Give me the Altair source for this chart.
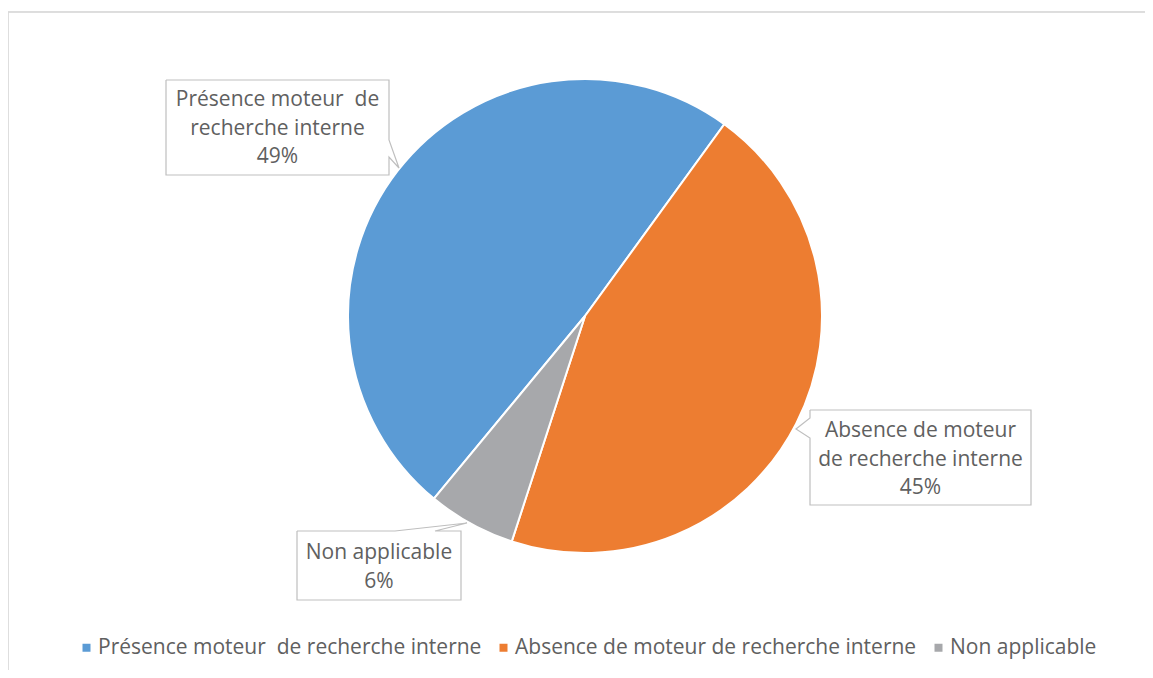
import altair as alt
import pandas as pd

# ---- data ----
categories = [
    "Présence moteur\u00a0 de recherche interne",
    "Absence de moteur de recherche interne",
    "Non applicable",
]
values = [49, 45, 6]
colors = ["#5B9BD5", "#ED7D31", "#A7A8AB"]
box_lines = [
    "Présence moteur\u00a0 de\nrecherche interne",
    "Absence de moteur\nde recherche interne",
    "Non applicable",
]

# ---- layout constants (chart pixel coordinates) ----
W, H = 1137, 662
CX, CY, R = 577, 308, 237
START = 3.8327  # radians
FONT = "Open Sans"
FS = 21
TXT = "#606060"

# callout boxes: (left, top, right, bottom), pointer base1, tip, base2 and which edge
boxes = [
    dict(l=158, t=72, r=381, b=167, edge="right", b1=132, b2=149, tip=(391, 160), tx=269.5, ty=92),
    dict(l=802, t=402, r=1023, b=497, edge="left", b1=410, b2=430, tip=(788, 421), tx=912.5, ty=423),
    dict(l=289, t=523, r=453, b=592, edge="top", b1=387, b2=427, tip=(459, 515), tx=371, ty=545),
]

pie_df = pd.DataFrame({
    "category": categories,
    "value": values,
    "order": list(range(len(categories))),
})

poly_rows = []
for i, bx in enumerate(boxes):
    l, t, r, b = bx["l"], bx["t"], bx["r"], bx["b"]
    tx_, ty_ = bx["tip"]
    if bx["edge"] == "right":
        pts = [(l, t), (r, t), (r, bx["b1"]), (tx_, ty_), (r, bx["b2"]), (r, b), (l, b), (l, t)]
    elif bx["edge"] == "left":
        pts = [(l, t), (r, t), (r, b), (l, b), (l, bx["b2"]), (tx_, ty_), (l, bx["b1"]), (l, t)]
    else:
        pts = [(l, t), (bx["b1"], t), (tx_, ty_), (bx["b2"], t), (r, t), (r, b), (l, b), (l, t)]
    for j, (px, py) in enumerate(pts):
        poly_rows.append({"box": i, "idx": j, "px": px, "py": py})
poly_df = pd.DataFrame(poly_rows)

label_df = pd.DataFrame({
    "text": [f"{box_lines[i]}\n{values[i]}%" for i in range(3)],
    "px": [bx["tx"] for bx in boxes],
    "py": [bx["ty"] for bx in boxes],
})

pie = alt.Chart(pie_df).mark_arc(
    outerRadius=R, stroke="white", strokeWidth=2
).encode(
    theta=alt.Theta("value:Q", stack=True,
                    scale=alt.Scale(range=[START, START + 6.283185307])),
    order=alt.Order("order:Q"),
    color=alt.Color(
        "category:N",
        sort=categories,
        scale=alt.Scale(domain=categories, range=colors),
        legend=alt.Legend(
            orient="none", legendX=68, legendY=629, direction="horizontal",
            title=None, symbolType="square", symbolSize=64, symbolStrokeWidth=0,
            labelFontSize=FS, labelFont=FONT, labelColor=TXT, labelLimit=800,
            columnPadding=11, labelOffset=1,
        ),
    ),
    x=alt.value(CX),
    y=alt.value(CY),
)

callouts = alt.Chart(poly_df).mark_line(
    fill="white", stroke="#BFBFBF", strokeWidth=1.2
).encode(
    x=alt.X("px:Q", scale=None),
    y=alt.Y("py:Q", scale=None),
    detail="box:N",
    order="idx:Q",
)

labels = alt.Chart(label_df).mark_text(
    font=FONT, fontSize=FS, color=TXT, lineBreak="\n", lineHeight=28.5,
    align="center", baseline="middle",
).encode(
    x=alt.X("px:Q", scale=None),
    y=alt.Y("py:Q", scale=None),
    text="text:N",
)

border_top = alt.Chart(pie_df).mark_rule(color="#D9D9D9", strokeWidth=1).encode(
    x=alt.value(0), x2=alt.value(W), y=alt.value(4)
)
border_left = alt.Chart(pie_df).mark_rule(color="#D9D9D9", strokeWidth=1).encode(
    x=alt.value(0), y=alt.value(4), y2=alt.value(H)
)

chart = alt.layer(border_top, border_left, pie, callouts, labels).properties(
    width=W, height=H, autosize=alt.AutoSizeParams(type="none"), padding=0
).configure_view(stroke=None)

chart.save("out.html", embed_options={"renderer": "svg", "actions": False})
